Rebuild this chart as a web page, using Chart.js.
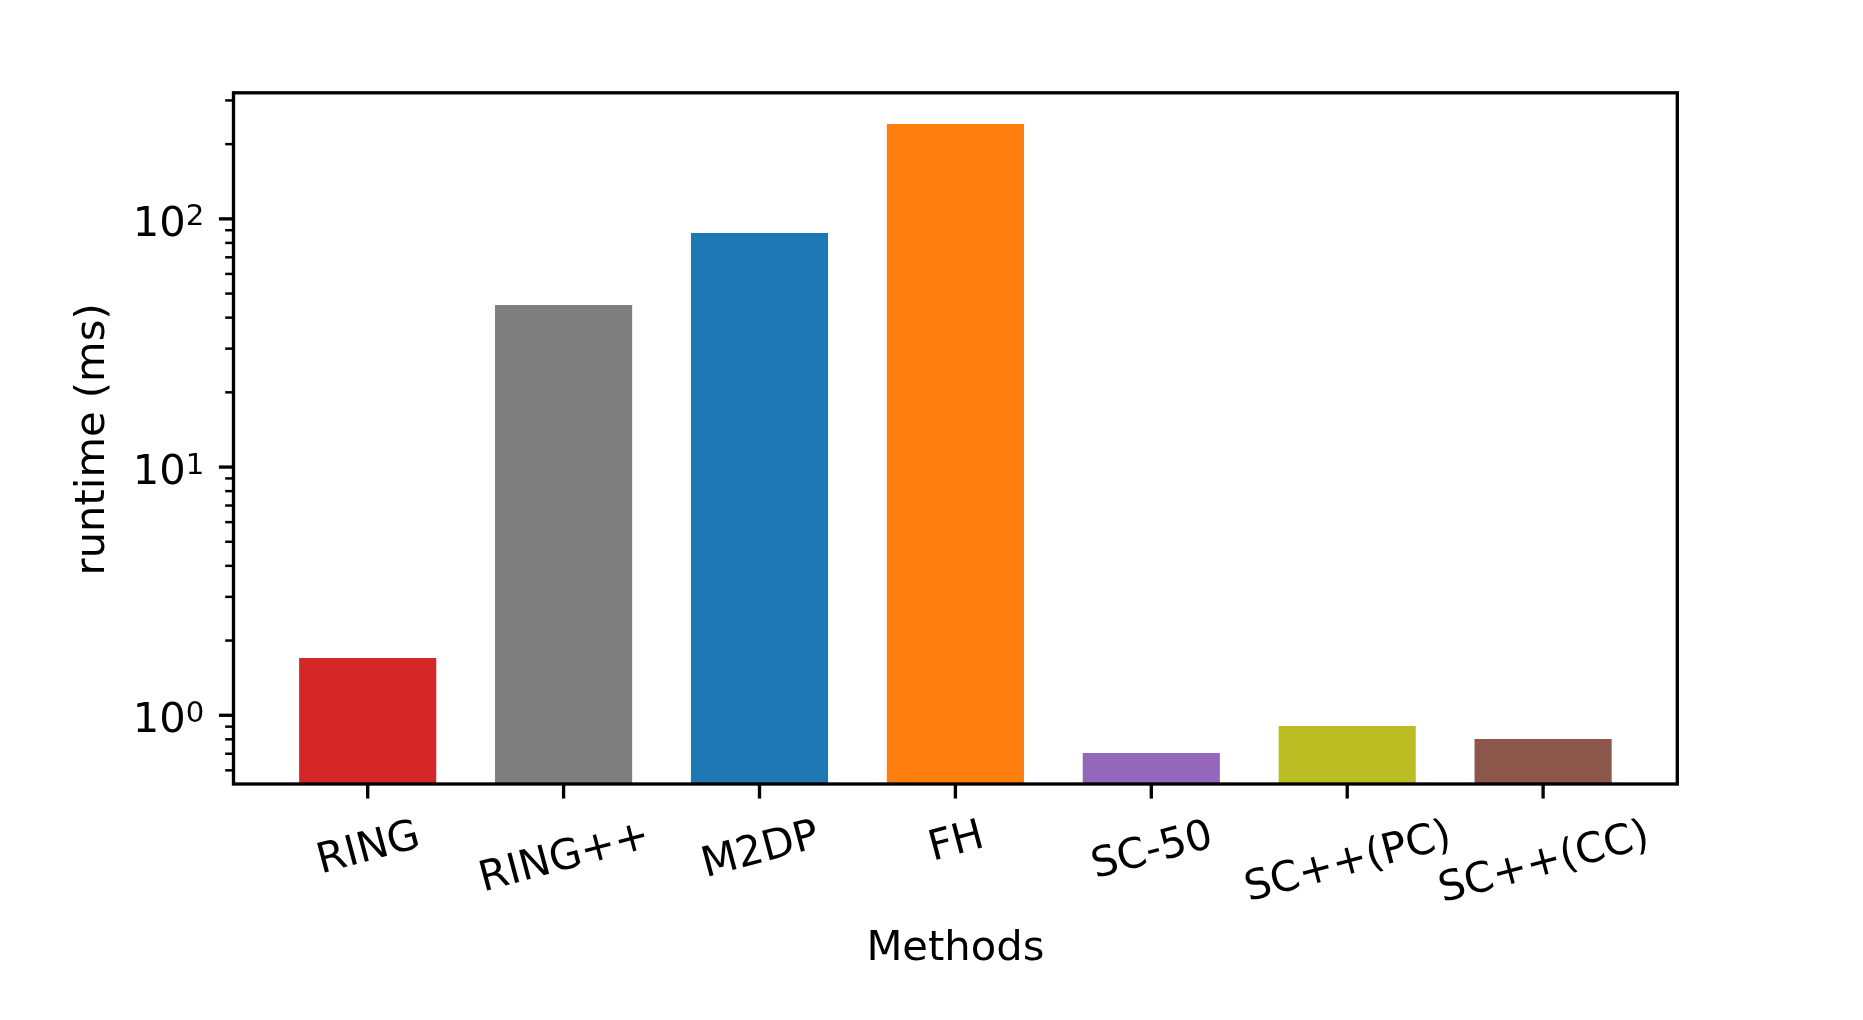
<!DOCTYPE html>
<html>
<head>
<meta charset="utf-8">
<script src="https://cdn.jsdelivr.net/npm/chart.js@4.4.1/dist/chart.umd.min.js"></script>
<style>
html,body{margin:0;padding:0;background:#ffffff;}
#wrap{width:1863px;height:1020px;position:relative;}
</style>
</head>
<body>
<div id="wrap"><canvas id="c"></canvas></div>
<script>
// ---- data ----
const categories = ['RING', 'RING++', 'M2DP', 'FH', 'SC-50', 'SC++(PC)', 'SC++(CC)'];
const runtimes = [1.70, 45.0, 87.7, 241, 0.705, 0.905, 0.802];
const barColors = ['#d62728', '#7f7f7f', '#1f77b4', '#ff7f0e', '#9467bd', '#bcbd22', '#8c564b'];
const yTickValues = [1, 10, 100];
const yTickBase = ['10', '10', '10'];
const yTickExp = ['0', '1', '2'];
const xTitle = 'Methods';
const yTitle = 'runtime (ms)';

// ---- style constants ----
const FS = 41.67;
const FONT = '"DejaVu Sans", "Liberation Sans", sans-serif';
const SPINE_W = 3.33, MAJ_LEN = 14.58, MAJ_W = 3.33, MIN_LEN = 8.33, MIN_W = 2.5, PAD = 14.58;
const ROT = 15 * Math.PI / 180;
const CAP = 0.729 * FS;

const decorPlugin = {
  id: 'decor',
  afterDatasetsDraw(chart) {
    const ctx = chart.ctx;
    const a = chart.chartArea;
    const xs = chart.scales.x, ys = chart.scales.y;
    ctx.save();
    ctx.strokeStyle = '#000';
    ctx.fillStyle = '#000';
    ctx.lineCap = 'butt';

    // frame
    ctx.lineWidth = SPINE_W;
    ctx.lineJoin = 'miter';
    ctx.strokeRect(a.left, a.top, a.right - a.left, a.bottom - a.top);

    // y major ticks
    ctx.lineWidth = MAJ_W;
    yTickValues.forEach(v => {
      const py = ys.getPixelForValue(v);
      ctx.beginPath(); ctx.moveTo(a.left, py); ctx.lineTo(a.left - MAJ_LEN, py); ctx.stroke();
    });
    // y minor ticks (2..9 per decade inside range)
    ctx.lineWidth = MIN_W;
    const d0 = Math.floor(Math.log10(ys.min)), d1 = Math.ceil(Math.log10(ys.max));
    for (let d = d0; d <= d1; d++) {
      for (let k = 2; k <= 9; k++) {
        const v = k * Math.pow(10, d);
        if (v < ys.min || v > ys.max) continue;
        const py = ys.getPixelForValue(v);
        ctx.beginPath(); ctx.moveTo(a.left, py); ctx.lineTo(a.left - MIN_LEN, py); ctx.stroke();
      }
    }
    // x ticks
    ctx.lineWidth = MAJ_W;
    categories.forEach((c, i) => {
      const px = xs.getPixelForValue(i);
      ctx.beginPath(); ctx.moveTo(px, a.bottom); ctx.lineTo(px, a.bottom + MAJ_LEN); ctx.stroke();
    });

    // y tick labels (base + superscript exponent)
    const supFS = FS * 0.7;
    yTickValues.forEach((v, i) => {
      const py = ys.getPixelForValue(v);
      ctx.font = FS + 'px ' + FONT;
      const wb = ctx.measureText(yTickBase[i]).width;
      ctx.font = supFS + 'px ' + FONT;
      const we = ctx.measureText(yTickExp[i]).width;
      const right = a.left - MAJ_LEN - PAD;
      const x0 = right - wb - we;
      const base = py + 17.2;
      ctx.textAlign = 'left';
      ctx.textBaseline = 'alphabetic';
      ctx.font = FS + 'px ' + FONT;
      ctx.fillText(yTickBase[i], x0, base);
      ctx.font = supFS + 'px ' + FONT;
      ctx.fillText(yTickExp[i], x0 + wb, base - 10.6);
    });

    // x tick labels rotated 15deg, centred on tick
    ctx.font = FS + 'px ' + FONT;
    ctx.textAlign = 'center';
    ctx.textBaseline = 'alphabetic';
    categories.forEach((c, i) => {
      const px = xs.getPixelForValue(i);
      const w = ctx.measureText(c).width;
      const yc = a.bottom + 33 + 0.1294 * w + 14.7;
      ctx.save();
      ctx.translate(px, yc);
      ctx.rotate(-ROT);
      ctx.fillText(c, 0, CAP / 2);
      ctx.restore();
    });

    // axis titles
    ctx.font = FS + 'px ' + FONT;
    ctx.textAlign = 'center';
    ctx.textBaseline = 'alphabetic';
    ctx.fillText(xTitle, (a.left + a.right) / 2, 960);
    ctx.save();
    ctx.translate(104, (a.top + a.bottom) / 2 + 1);
    ctx.rotate(-Math.PI / 2);
    ctx.fillText(yTitle, 0, 0);
    ctx.restore();

    ctx.restore();
  }
};

const ctx = document.getElementById('c').getContext('2d');
new Chart(ctx, {
  type: 'bar',
  data: {
    datasets: [{
      label: 'runtime',
      data: categories.map((c, i) => ({ x: i, y: runtimes[i] })),
      backgroundColor: barColors,
      borderWidth: 0,
      categoryPercentage: 1.0,
      barPercentage: 0.7
    }]
  },
  options: {
    responsive: true,
    maintainAspectRatio: false,
    animation: false,
    devicePixelRatio: 1,
    layout: { padding: { left: 233.5, top: 92.8, right: 185.7, bottom: 236 } },
    plugins: { legend: { display: false }, tooltip: { enabled: false } },
    scales: {
      x: {
        type: 'linear',
        offset: false,
        min: -0.685,
        max: 6.685,
        grid: { display: false, drawTicks: false, offset: false },
        border: { display: false },
        ticks: { display: false },
        afterBuildTicks: s => { s.ticks = categories.map((c, i) => ({ value: i })); },
        afterFit: s => { s.height = 0; }
      },
      y: {
        type: 'logarithmic',
        min: 0.5286,
        max: 322,
        grid: { display: false, drawTicks: false },
        border: { display: false },
        ticks: { display: false },
        afterBuildTicks: s => { s.ticks = yTickValues.map(v => ({ value: v, major: true })); },
        afterFit: s => { s.width = 0; }
      }
    }
  },
  plugins: [decorPlugin]
});
</script>
</body>
</html>
